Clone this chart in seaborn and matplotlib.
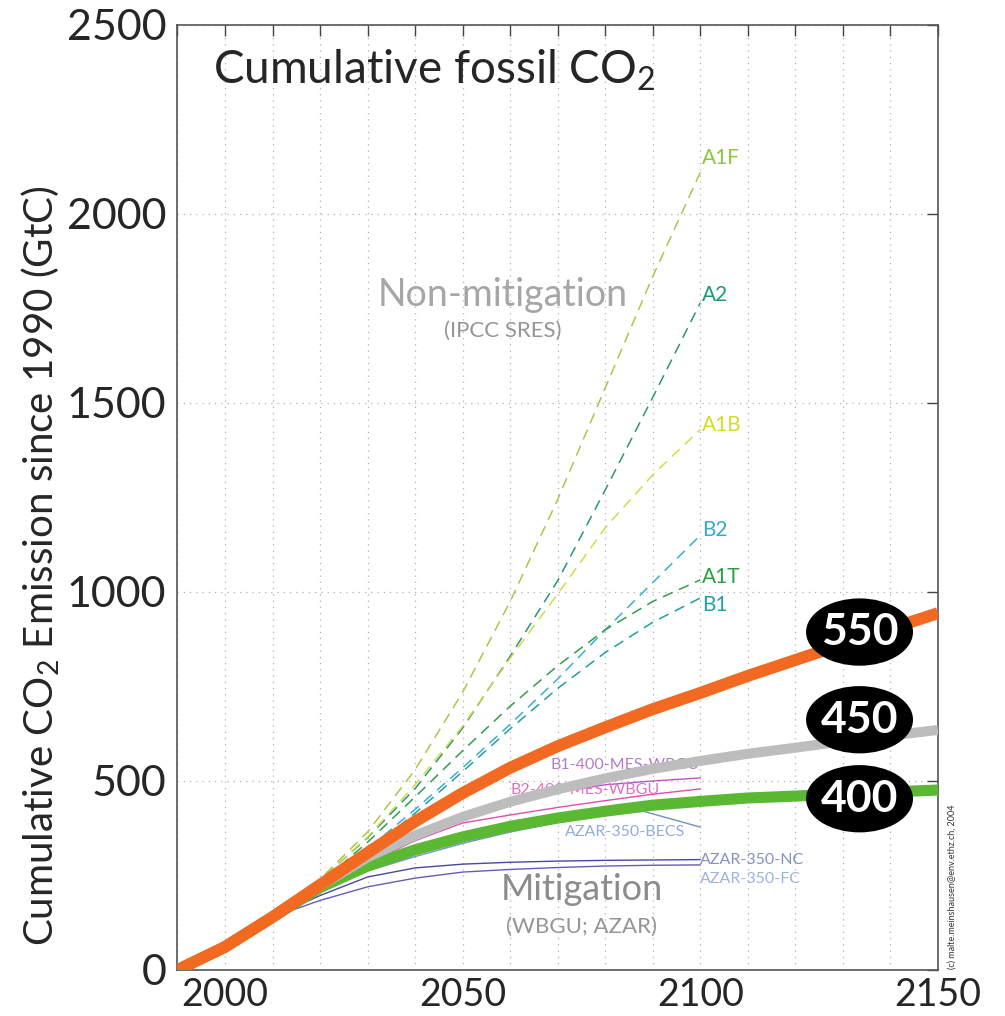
import matplotlib
matplotlib.use("Agg")
import matplotlib.pyplot as plt
import seaborn as sns
import pandas as pd
from matplotlib.patches import Ellipse
from matplotlib.ticker import MultipleLocator, FixedLocator

# ---------------- data (GtC cumulative since 1990) ----------------
years_stab = [1990, 2000, 2010, 2020, 2030, 2040, 2050, 2060, 2070, 2080,
              2090, 2100, 2110, 2120, 2130, 2140, 2150]
stab_550 = [0, 61, 140, 225, 310, 393, 468, 535, 592, 642, 690, 733, 778, 820, 862, 903, 944]
stab_450 = [0, 61, 140, 222, 298, 356, 405, 445, 478, 507, 532, 553, 572, 588, 605, 620, 635]
stab_400 = [0, 61, 140, 218, 275, 318, 352, 380, 402, 420, 436, 446, 455, 460, 466, 471, 476]
stab_labels = ["550", "450", "400"]
stab_badge_y = [894, 662, 453]

years_sres = [2000, 2010, 2020, 2030, 2040, 2050, 2060, 2070, 2080, 2090, 2100]
sres_A1F = [65, 142, 240, 365, 530, 735, 975, 1245, 1540, 1835, 2110]
sres_A2 = [65, 142, 238, 350, 480, 640, 830, 1030, 1270, 1515, 1765]
sres_A1B = [65, 142, 238, 352, 490, 645, 825, 995, 1170, 1310, 1430]
sres_B2 = [64, 140, 225, 320, 425, 535, 650, 770, 900, 1025, 1150]
sres_A1T = [64, 140, 230, 338, 458, 580, 698, 805, 900, 975, 1032]
sres_B1 = [64, 137, 220, 313, 415, 525, 638, 745, 840, 920, 984]
sres_names = ["A1F", "A2", "A1B", "B2", "A1T", "B1"]
sres_label_y = [2148, 1786, 1442, 1164, 1040, 966]

years_mit = [2010, 2020, 2030, 2040, 2050, 2060, 2070, 2080, 2090, 2100]
mit_B1_400 = [140, 222, 298, 355, 402, 440, 470, 490, 500, 508]
mit_B2_400 = [140, 218, 282, 342, 389, 410, 430, 448, 465, 479]
mit_NC = [140, 197, 246, 270, 280, 285, 288, 290, 291, 292]
mit_FC = [140, 184, 220, 243, 259, 266, 271, 275, 277, 278]
years_becs = [2010, 2020, 2030, 2040, 2050, 2060, 2070, 2080, 2088, 2100]
mit_BECS = [140, 212, 262, 300, 335, 365, 390, 410, 420, 378]

# ---------------- style ----------------
sns.set_style("white")
plt.rcParams["font.family"] = ["Lato", "DejaVu Sans"]
plt.rcParams["mathtext.fontset"] = "custom"
plt.rcParams["mathtext.rm"] = "Lato"
plt.rcParams["mathtext.it"] = "Lato:italic"
plt.rcParams["mathtext.bf"] = "Lato:bold"

fig = plt.figure(figsize=(10.05, 10.16), dpi=100)
ax = fig.add_axes([0.1766, 0.0453, 0.7567, 0.9301])

def line(x, y, **kw):
    df = pd.DataFrame({"year": x, "value": y})
    sns.lineplot(data=df, x="year", y="value", ax=ax, sort=False,
                 estimator=None, legend=False, **kw)

# SRES non-mitigation (dashed)
sres_series = [sres_A1F, sres_A2, sres_A1B, sres_B2, sres_A1T, sres_B1]
sres_line_col = ["#a9c74a", "#27967a", "#d3dc45", "#3aaed0", "#2f9e48", "#239f9f"]
sres_text_col = ["#8cc63f", "#1a9a78", "#d4dc2a", "#36a9d0", "#27a243", "#22a3a3"]
for vals, c in zip(sres_series, sres_line_col):
    line(years_sres, vals, color=c, linewidth=1.1, linestyle=(0, (7, 4.5)), zorder=3)
for name, yv, c in zip(sres_names, sres_label_y, sres_text_col):
    ax.text(2100.3, yv, name, color=c, fontsize=15, ha="left", va="center", zorder=4)

# mitigation thin lines
line(years_mit, mit_B1_400, color="#c050c8", linewidth=1.0, zorder=4)
line(years_mit, mit_B2_400, color="#e050a8", linewidth=1.0, zorder=4)
line(years_becs, mit_BECS, color="#7090c8", linewidth=1.0, zorder=4)
line(years_mit, mit_NC, color="#4848a0", linewidth=1.0, zorder=4)
line(years_mit, mit_FC, color="#6a5ab8", linewidth=1.0, zorder=4)

small = 11.5
ax.text(2068.4, 542, "B1-400-MES-WBGU", color="#b27cc8", fontsize=small, va="center", zorder=5)
ax.text(2060.0, 476, "B2-400-MES-WBGU", color="#e070c0", fontsize=small, va="center", zorder=5)
ax.text(2071.6, 365, "AZAR-350-BECS", color="#94acd8", fontsize=small, va="center", zorder=5)
ax.text(2100.0, 292, "AZAR-350-NC", color="#8890c0", fontsize=small, va="center", zorder=5)
ax.text(2100.0, 241, "AZAR-350-FC", color="#9cb2e0", fontsize=small, va="center", zorder=5)

# stabilisation (thick)
line(years_stab, stab_400, color="#5ab832", linewidth=8.0, zorder=6, solid_capstyle="butt")
line(years_stab, stab_450, color="#bdbdbd", linewidth=7.2, zorder=7, solid_capstyle="butt")
line(years_stab, stab_550, color="#f26a21", linewidth=8.6, zorder=8, solid_capstyle="butt")

for lab, yv in zip(stab_labels, stab_badge_y):
    ax.add_patch(Ellipse((2133.5, yv), 22.5, 178, facecolor="black", edgecolor="none", zorder=10))
    ax.text(2133.5, yv, lab, color="white", fontsize=32, fontweight="bold",
            ha="center", va="center", zorder=11)

# annotation texts
ax.text(1997.5, 2381, "Cumulative fossil CO$_2$", fontsize=33, ha="left", va="center", zorder=5)
ax.text(2058.5, 1786, "Non-mitigation", fontsize=27, color="#a6a6a6", ha="center", va="center", zorder=5)
ax.text(2058.5, 1690, "(IPCC SRES)", fontsize=16, color="#959595", ha="center", va="center", zorder=5)
ax.text(2075.0, 212, "Mitigation", fontsize=26, color="#8c8c8c", ha="center", va="center", zorder=5)
ax.text(2075.0, 114, "(WBGU; AZAR)", fontsize=16, color="#959595", ha="center", va="center", zorder=5)
fig.text(0.9475, 0.046, "(c) malte.meinshausen@env.ethz.ch, 2004", rotation=90,
         fontsize=6.5, color="#333333", ha="center", va="bottom")

# axes
ax.set_xlim(1990, 2150)
ax.set_ylim(0, 2500)
ax.xaxis.set_major_locator(FixedLocator([2000, 2050, 2100, 2150]))
ax.xaxis.set_minor_locator(MultipleLocator(10))
ax.yaxis.set_major_locator(MultipleLocator(500))
ax.grid(which="both", axis="x", color="#b0b0b0", linestyle=(0, (1, 4)), linewidth=0.9, zorder=0)
ax.grid(which="major", axis="y", color="#b0b0b0", linestyle=(0, (1, 4)), linewidth=0.9, zorder=0)
ax.set_axisbelow(True)
ax.tick_params(which="both", direction="in", top=True, right=True, length=8,
               width=1.0, color="#444444")
ax.tick_params(axis="y", labelsize=31, pad=8)
ax.tick_params(axis="x", labelsize=27, pad=5)
ax.set_xlabel("")
ax.set_ylabel("Cumulative CO$_2$ Emission since 1990 (GtC)", fontsize=29)
ax.yaxis.set_label_coords(-0.152, 0.4275)
for s in ax.spines.values():
    s.set_color("#555555")
    s.set_linewidth(1.2)

fig.savefig("out.png", dpi=100)
